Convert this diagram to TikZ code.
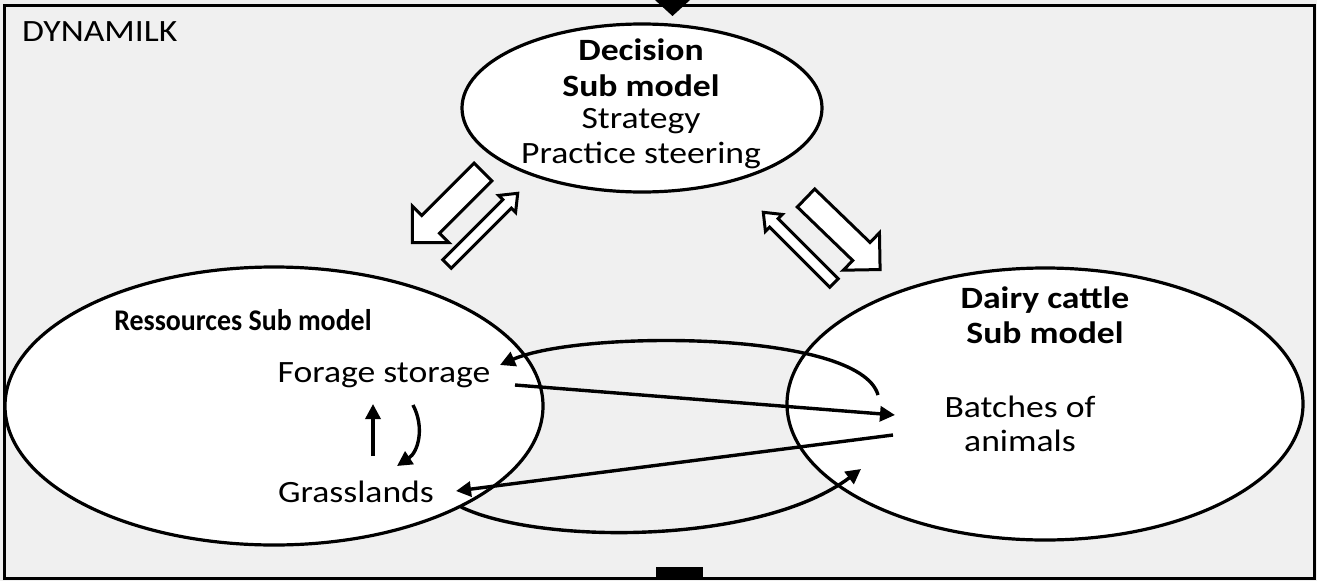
\documentclass[tikz,border=0pt]{standalone}
\usepackage{fontspec}
\usepackage{graphicx}
\setmainfont{Carlito}
\usetikzlibrary{shapes.geometric,arrows.meta}
\definecolor{bg}{HTML}{F0F0F0}
\newcommand\sx[1]{\scalebox{1.15}[1]{#1}}
\newcommand\blockarr[6]{%
  \draw[barrow,shift={#1},rotate=#2] (0,-#4) -- ({#3-#6},-#4) -- ({#3-#6},-#5) -- (#3,0) -- ({#3-#6},#5) -- ({#3-#6},#4) -- (0,#4) -- cycle;}
\begin{document}
\begin{tikzpicture}[x=1pt,y=-1pt,
  ell/.style={ellipse,draw=black,fill=white,line width=3.2pt,inner sep=0pt},
  lbl/.style={font=\fontsize{31}{36}\selectfont,inner sep=0pt,anchor=center},
  blbl/.style={lbl,font=\fontsize{31}{36}\selectfont\bfseries},
  conn/.style={line width=3.4pt,-{Triangle[length=15pt,width=15pt]}},
  barrow/.style={draw=black,fill=white,line width=3pt,line join=miter}]
\useasboundingbox (0,0) rectangle (1317,581);
\fill[bg] (0,0) rectangle (1317,581);
\draw[line width=3pt] (4,5) rectangle (1314,578);
\fill[black] (655,0) -- (690,0) -- (672.5,16) -- cycle;
\fill[black] (656,567) rectangle (703,578);
\node[lbl,anchor=west] (title) at (22,32) {\sx{DYNAMILK}};
% ellipses
\node[ell,minimum width=360,minimum height=168] (dec) at (642,108) {};
\node[ell,minimum width=538,minimum height=278] (res) at (274,406) {};
\node[ell,minimum width=516,minimum height=272] (dai) at (1045,404) {};
% texts
\node[blbl] (d1) at (641,50) {\sx{Decision}};
\node[blbl] (d2) at (641,86) {\sx{Sub model}};
\node[lbl] (d3) at (641,121) {\sx{Strategy}};
\node[lbl] (d4) at (641,155) {\sx{Practice steering}};
\node[blbl,font=\fontsize{30}{34}\selectfont\bfseries] (r1) at (243,320) {\scalebox{0.93}[1]{Ressources Sub model}};
\node[lbl,anchor=base] (fs) at (384,382) {\sx{Forage storage}};
\node[lbl,anchor=base] (gl) at (356,502) {\sx{Grasslands}};
\node[blbl] (c1) at (1045,300) {\sx{Dairy cattle}};
\node[blbl] (c2) at (1045,333) {\sx{Sub model}};
\node[lbl] (b1) at (1020,407) {\sx{Batches of}};
\node[lbl] (b2) at (1020,441) {\sx{animals}};
% connector end points
\coordinate (a1s) at (878,395); \coordinate (a1e) at (500,365);
\coordinate (a2s) at (515,385); \coordinate (a2e) at (895,415);
\coordinate (a3s) at (893,435); \coordinate (a3e) at (456,491);
\coordinate (a4s) at (461,507); \coordinate (a4e) at (861,469);
\coordinate (u1s) at (373,456); \coordinate (u1e) at (373,404);
\coordinate (u2s) at (413,405); \coordinate (u2e) at (397,466);
\draw[conn] (a1s) .. controls (860,330) and (580,330) .. (a1e);
\draw[conn] (a2s) -- (a2e);
\draw[conn] (a3s) -- (a3e);
\draw[conn] (a4s) .. controls (540,545) and (760,545) .. (a4e);
\draw[conn] (u1s) -- (u1e);
\draw[conn] (u2s) .. controls (425,428) and (418,452) .. (u2e);
% block arrows
\blockarr{(483,172)}{225}{100}{12.5}{26}{26}
\blockarr{(447,264)}{45}{100}{6}{12}{15}
\blockarr{(806,198)}{-44}{103}{12.5}{26}{26}
\blockarr{(834,283)}{135}{100}{6}{12}{15}
\end{tikzpicture}
\end{document}
